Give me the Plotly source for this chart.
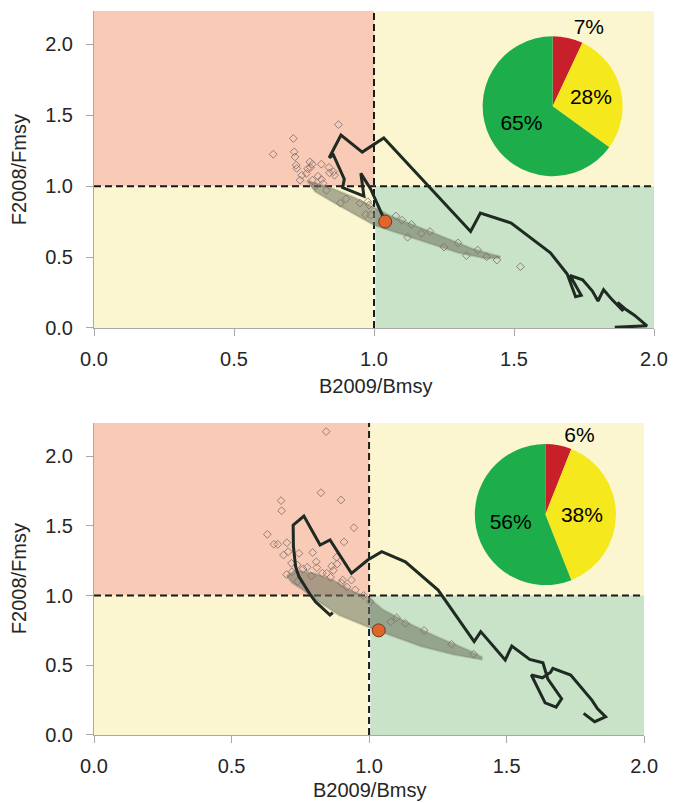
import plotly.graph_objects as go

# ---------------- data ----------------
# pie shares: overfished&overfishing (red), one criterion (yellow), healthy (green)
pie_labels = ["red", "yellow", "green"]
pie_top = [7, 28, 65]
pie_bot = [6, 38, 56]

# current status point (B2009/Bmsy, F2008/Fmsy)
status_top = (1.04, 0.75)
status_bot = (1.035, 0.75)

# historical trajectory, upper panel
traj_top_x = [1.86, 1.975, 1.93, 1.90, 1.87, 1.89, 1.85, 1.82, 1.80, 1.78, 1.745,
              1.70, 1.74, 1.72, 1.69, 1.63, 1.49, 1.38, 1.345, 1.035, 0.958, 0.882,
              0.84, 0.855, 0.894, 0.888, 0.964, 0.953, 0.988, 1.04]
traj_top_y = [0.005, 0.015, 0.09, 0.13, 0.18, 0.12, 0.20, 0.27, 0.19, 0.26, 0.34,
              0.37, 0.23, 0.22, 0.38, 0.53, 0.74, 0.81, 0.68, 1.34, 1.24, 1.36,
              1.20, 1.22, 1.05, 0.99, 0.93, 1.09, 0.98, 0.75]

# historical trajectory, lower panel
traj_bot_x = [0.868, 0.858, 0.805, 0.787, 0.745, 0.733, 0.725, 0.724, 0.763, 0.822,
              0.858, 0.936, 0.995, 1.046, 1.132, 1.251, 1.382, 1.406, 1.495, 1.519,
              1.584, 1.632, 1.65, 1.70, 1.68, 1.64, 1.59, 1.63, 1.66, 1.668, 1.733,
              1.81, 1.83, 1.86, 1.82, 1.78]
traj_bot_y = [0.877, 0.860, 0.956, 1.004, 1.135, 1.207, 1.350, 1.505, 1.570, 1.362,
              1.398, 1.159, 1.254, 1.314, 1.242, 1.039, 0.669, 0.741, 0.538, 0.638,
              0.542, 0.518, 0.40, 0.26, 0.20, 0.23, 0.43, 0.41, 0.45, 0.478, 0.43,
              0.25, 0.19, 0.13, 0.095, 0.155]

# outline of the dense cloud of bootstrap estimates
band_top_x = [0.76, 0.85, 0.93, 1.00, 1.06, 1.15, 1.25, 1.35, 1.42, 1.45,
              1.45, 1.40, 1.30, 1.18, 1.06, 1.00, 0.93, 0.86, 0.79, 0.76]
band_top_y = [1.04, 0.985, 0.92, 0.85, 0.79, 0.72, 0.64, 0.56, 0.52, 0.505,
              0.495, 0.49, 0.53, 0.605, 0.685, 0.725, 0.80, 0.88, 0.96, 1.04]
band_bot_x = [0.70, 0.73, 0.80, 0.87, 0.94, 0.995, 1.05, 1.13, 1.24, 1.36, 1.41,
              1.41, 1.31, 1.19, 1.07, 0.995, 0.89, 0.81, 0.76, 0.72, 0.70]
band_bot_y = [1.14, 1.18, 1.16, 1.11, 1.03, 0.99, 0.90, 0.815, 0.71, 0.61, 0.56,
              0.54, 0.575, 0.635, 0.72, 0.775, 0.86, 0.965, 1.04, 1.09, 1.14]

# scattered individual estimates
pts_top_x = [0.873, 0.712, 0.640, 0.715, 0.718, 0.722, 0.724, 0.736, 0.742, 0.763,
             0.771, 0.780, 0.773, 0.812, 0.759, 0.800, 0.812, 0.839, 0.841, 0.855,
             0.780, 0.818, 0.859, 1.078, 1.134, 1.169, 0.982, 0.988, 0.978, 1.439,
             1.523, 1.402, 0.79, 0.83, 0.90, 0.95, 1.10, 1.20, 1.30, 1.37, 0.88,
             0.97, 1.12, 1.25, 1.33]
pts_top_y = [1.434, 1.336, 1.225, 1.242, 1.206, 1.148, 1.125, 1.042, 1.077, 1.122,
             1.171, 1.155, 1.132, 1.155, 1.089, 1.070, 1.047, 1.132, 1.094, 1.101,
             1.042, 1.019, 1.077, 0.789, 0.730, 0.667, 0.866, 0.796, 0.890, 0.479,
             0.432, 0.502, 1.00, 0.97, 0.91, 0.88, 0.76, 0.68, 0.60, 0.55, 0.88,
             0.80, 0.64, 0.57, 0.51]

pts_bot_x = [0.844, 0.825, 0.680, 0.682, 0.898, 0.945, 0.630, 0.654, 0.668, 0.701,
             0.706, 0.689, 0.745, 0.718, 0.739, 0.795, 0.808, 0.775, 0.909, 0.882,
             0.884, 0.864, 0.904, 0.936, 0.846, 1.132, 1.079, 1.004, 0.72, 0.76,
             0.79, 0.83, 0.86, 0.90, 0.95, 0.98, 0.70, 0.74, 0.81, 0.87, 0.92,
             1.10, 1.20, 1.30, 1.38]
pts_bot_y = [2.175, 1.737, 1.680, 1.608, 1.685, 1.486, 1.438, 1.367, 1.367, 1.378,
             1.314, 1.290, 1.302, 1.231, 1.219, 1.308, 1.242, 1.202, 1.384, 1.274,
             1.226, 1.211, 1.111, 1.111, 1.159, 0.800, 0.812, 0.956, 1.17, 1.19,
             1.14, 1.16, 1.13, 1.09, 1.04, 1.00, 1.15, 1.10, 1.20, 1.18, 1.06,
             0.84, 0.75, 0.65, 0.58]

# ---------------- styling ----------------
FONT = "Liberation Sans, Arial, sans-serif"
C_RED_BG = "#F9CBB7"
C_YEL_BG = "#FBF6CF"
C_GRN_BG = "#C9E3C8"
C_LINE = "#1E2A22"
C_PIE = ["#C8202A", "#F5E81C", "#1DAD4B"]
XMAX = 2.0
YMAX_TOP = 2.235
YMAX_BOT = 2.237

fig = go.Figure()


def add_panel(xa, ya, ymax, band_x, band_y, px, py, tx, ty, status):
    xr, yr = xa, ya
    # quadrant backgrounds
    quads = [
        (0, 1, 1, ymax, C_RED_BG),
        (1, XMAX, 1, ymax, C_YEL_BG),
        (0, 1, 0, 1, C_YEL_BG),
        (1, XMAX, 0, 1, C_GRN_BG),
    ]
    for x0, x1, y0, y1, c in quads:
        fig.add_shape(type="rect", xref=xr, yref=yr, x0=x0, x1=x1, y0=y0, y1=y1,
                      fillcolor=c, line_width=0, layer="below")
    fig.add_shape(type="line", xref=xr, yref=yr, x0=1, x1=1, y0=0, y1=1,
                  line=dict(color="white", width=2.5), layer="below")
    fig.add_shape(type="line", xref=xr, yref=yr, x0=1, x1=1, y0=0, y1=ymax,
                  line=dict(color="#1a1a1a", width=2, dash="7px,4px"), layer="below")
    fig.add_shape(type="line", xref=xr, yref=yr, x0=0, x1=XMAX, y0=1, y1=1,
                  line=dict(color="#1a1a1a", width=2, dash="7px,4px"), layer="below")

    # dense cloud
    fig.add_trace(go.Scatter(x=band_x, y=band_y, xaxis=xa, yaxis=ya,
                             mode="lines", fill="toself",
                             fillcolor="rgba(108,114,94,0.56)",
                             line=dict(color="rgba(120,120,105,0.3)", width=2),
                             hoverinfo="skip", showlegend=False))
    # individual estimates
    fig.add_trace(go.Scatter(x=px, y=py, xaxis=xa, yaxis=ya, mode="markers",
                             marker=dict(symbol="diamond-open", size=6,
                                         color="rgba(128,114,110,0.85)",
                                         line=dict(width=1)),
                             hoverinfo="skip", showlegend=False))
    # trajectory
    fig.add_trace(go.Scatter(x=tx, y=ty, xaxis=xa, yaxis=ya, mode="lines",
                             line=dict(color=C_LINE, width=3),
                             hoverinfo="skip", showlegend=False))
    # current status
    fig.add_trace(go.Scatter(x=[status[0]], y=[status[1]], xaxis=xa, yaxis=ya,
                             mode="markers",
                             marker=dict(size=13, color="#E0652B",
                                         line=dict(color="#6B3A22", width=1)),
                             hoverinfo="skip", showlegend=False))


add_panel("x", "y", YMAX_TOP, band_top_x, band_top_y, pts_top_x, pts_top_y,
          traj_top_x, traj_top_y, status_top)
add_panel("x2", "y2", YMAX_BOT, band_bot_x, band_bot_y, pts_bot_x, pts_bot_y,
          traj_bot_x, traj_bot_y, status_bot)


def add_pie(values, dom_x, dom_y):
    fig.add_trace(go.Pie(
        labels=pie_labels, values=values, sort=False, direction="clockwise",
        rotation=0, domain=dict(x=dom_x, y=dom_y),
        marker=dict(colors=C_PIE, line=dict(width=0)),
        texttemplate="%{value}%", textposition=["outside", "inside", "inside"],
        insidetextorientation="horizontal",
        textfont=dict(size=21, color="black", family=FONT),
        hoverinfo="skip", showlegend=False))


add_pie(pie_top, [0.694, 0.944], [0.771, 0.966])
add_pie(pie_bot, [0.680, 0.932], [0.205, 0.404])

axis_common = dict(
    showgrid=False, zeroline=False, showline=True, linecolor="#A8A8A8", linewidth=1,
    ticks="outside", ticklen=7, tickcolor="#A8A8A8", tickwidth=1,
    tickfont=dict(size=20, color="#262626", family=FONT),
    tickformat=".1f", dtick=0.5, tick0=0,
)

fig.update_layout(
    width=679, height=803,
    margin=dict(l=94, r=16, t=11, b=68),
    paper_bgcolor="white", plot_bgcolor="white",
    font=dict(family=FONT, color="#262626"),
    xaxis=dict(domain=[0, 1], range=[0, XMAX], anchor="y", ticklabelstandoff=6,
               **axis_common),
    yaxis=dict(domain=[0.5622, 1], range=[0, YMAX_TOP], anchor="x",
               ticklabelstandoff=9, **axis_common),
    xaxis2=dict(domain=[0, 0.9824], range=[0, XMAX], anchor="y2",
                ticklabelstandoff=6, **axis_common),
    yaxis2=dict(domain=[0, 0.431], range=[0, YMAX_BOT], anchor="x2",
                ticklabelstandoff=9, **axis_common),
)

# axis titles, positioned in figure pixels and converted to plot-area paper coords
PLOT_L, PLOT_R, PLOT_T, PLOT_B = 94, 679 - 16, 11, 803 - 68
title_font = dict(size=20, color="#262626", family=FONT)
for xc, yc, txt, ang in [
    (380, 386, "B2009/Bmsy", 0),
    (374, 790, "B2009/Bmsy", 0),
    (18, 170, "F2008/Fmsy", -90),
    (18, 579, "F2008/Fmsy", -90),
]:
    fig.add_annotation(x=(xc - PLOT_L) / (PLOT_R - PLOT_L),
                       y=(PLOT_B - yc) / (PLOT_B - PLOT_T),
                       xref="paper", yref="paper",
                       text=txt, showarrow=False, textangle=ang, font=title_font,
                       xanchor="center", yanchor="middle")

fig.write_html("out.html")
